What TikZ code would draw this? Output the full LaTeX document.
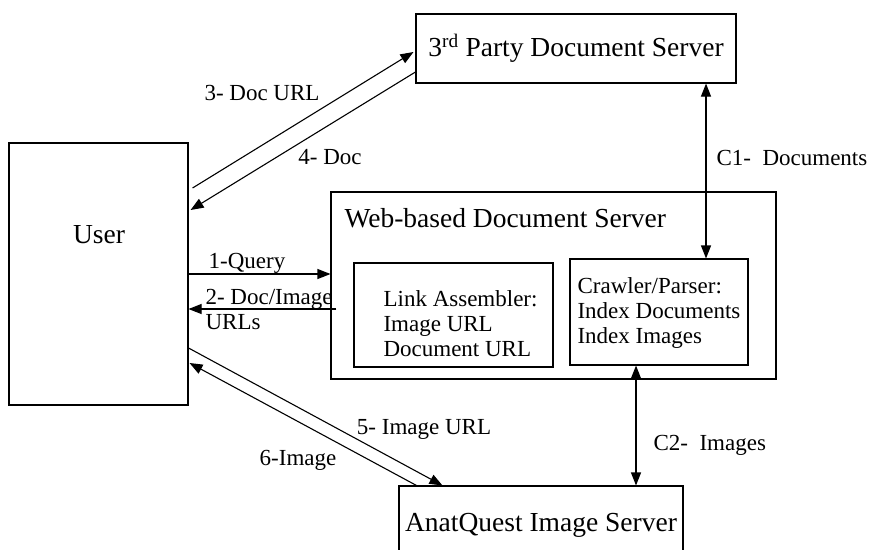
\documentclass[tikz,border=0pt]{standalone}
\usepackage{fontspec}
\setmainfont{Liberation Serif}
\usetikzlibrary{arrows.meta, positioning, calc}

\begin{document}
\begin{tikzpicture}[x=1pt, y=-1pt, line width=1.1pt,
    box/.style={draw, inner sep=0pt},
    big/.style={font=\fontsize{27.5}{30}\selectfont},
    small/.style={font=\fontsize{23}{25}\selectfont},
    lbl/.style={small, inner sep=0pt},
    ->, >={Triangle[length=13pt, width=10pt]}]
        \useasboundingbox (0,0) rectangle (869,549);
        \clip (0,0) rectangle (869,549);

        % servers and user
        \node[box, minimum width=179pt, minimum height=262pt] (user) at (98.5,274) {};
        \node[big] (usertxt) at (99,235) {User};
        \node[box, big, minimum width=320pt, minimum height=69pt] (third) at (576,48.5) {3\textsuperscript{rd} Party Document Server};
        \node[box, minimum width=445pt, minimum height=187pt] (web) at (553.5,285.5) {};
        \node[big, anchor=west, inner sep=0pt] (webtxt) at (344,218) {Web-based Document Server};
        \node[box, big, minimum width=284pt, minimum height=78pt] (anat) at (541,525) {AnatQuest Image Server};

        % modules inside the web server
        \node[box, minimum width=199pt, minimum height=104pt] (link) at (453.5,315) {};
        \node[lbl, align=left, anchor=west] (linktxt) at (383,324) {Link Assembler:\\Image URL\\Document URL};
        \node[box, minimum width=178pt, minimum height=106pt] (crawler) at (659,312) {};
        \node[lbl, align=left, anchor=west] (crawlertxt) at (577,313) {Crawler/Parser:\\Index Documents\\Index Images};

        % end points on the borders
        \coordinate (u3) at ([xshift=4pt]user.east |- 0,188);
        \coordinate (t3) at ([xshift=-2pt]third.west |- 0,52);
        \coordinate (t4) at (third.west |- 0,72);
        \coordinate (u4) at ([xshift=2pt]user.east |- 0,210);
        \coordinate (u1) at (user.east |- 0,274);
        \coordinate (w1) at (web.west |- 0,274);
        \coordinate (w2) at ([xshift=6pt]web.west |- 0,309);
        \coordinate (u2) at (user.east |- 0,309);
        \coordinate (u5) at (user.east |- 0,348);
        \coordinate (a5) at ([xshift=44pt]anat.north west);
        \coordinate (a6) at ([xshift=18pt]anat.north west);
        \coordinate (u6) at ([xshift=1pt]user.east |- 0,363);

        \path (u3) edge (t3);
        \path (t4) edge (u4);
        \path (u1) edge (w1);
        \path (w2) edge (u2);
        \path (u5) edge (a5);
        \path (a6) edge (u6);
        \draw[<->] (third.south -| 706,0) -- (crawler.north -| 706,0);
        \draw[<->] (crawler.south -| 636,0) -- (anat.north -| 636,0);

        % labels
        \node[small] (l3) at (262,93) {3- Doc URL};
        \node[small] (l4) at (330,157) {4- Doc};
        \node[small] (l1) at (247,263) {1-Query};
        \node[lbl, align=left, anchor=west] (l2) at (205,309.5) {2- Doc/Image\\URLs};
        \node[small] (l5) at (424,429) {5- Image URL};
        \node[small] (l6) at (298,460) {6-Image};
        \node[lbl, anchor=west] (c1) at (716,158) {C1-\ \ Documents};
        \node[lbl, anchor=west] (c2) at (653,445) {C2-\ \ Images};
    \end{tikzpicture}
\end{document}
